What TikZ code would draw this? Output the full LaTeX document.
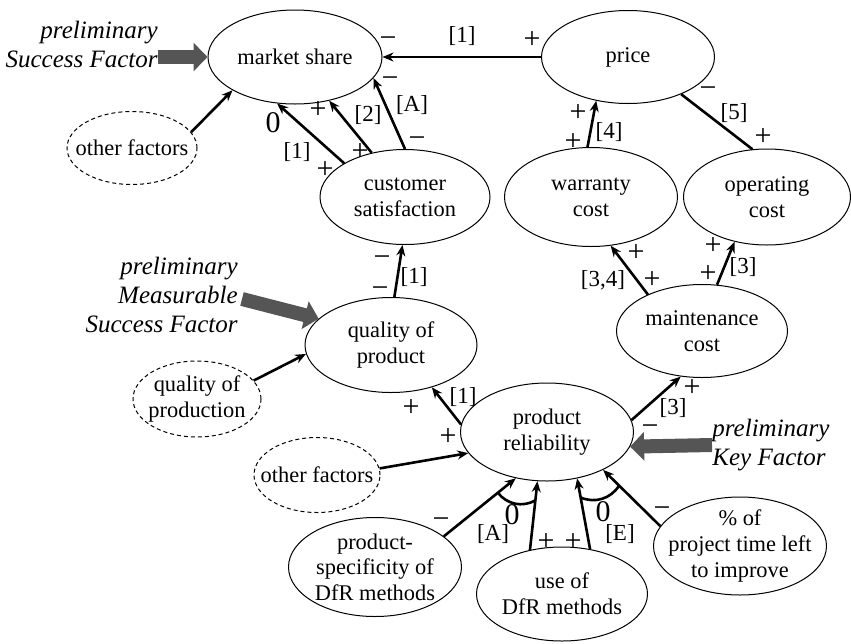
\documentclass[tikz,border=0pt]{standalone}
\usepackage{fontspec}
\setmainfont{Liberation Serif}
\usetikzlibrary{shapes.geometric,arrows.meta,calc}
\definecolor{keygray}{HTML}{555555}
\newcommand{\factorfont}{\fontsize{11.2pt}{12.8pt}\selectfont}
\newcommand{\notefont}{\fontsize{12.5pt}{14.5pt}\selectfont\itshape}

\begin{document}
\begin{tikzpicture}[x=0.5pt, y=-0.5pt,
    factor/.style={ellipse, draw, line width=0.5pt, inner sep=0pt},
    dashedfactor/.style={factor, dash pattern=on 2pt off 1.5pt},
    esize/.style args={#1/#2}{minimum width=#1*0.5pt, minimum height=#2*0.5pt},
    ftext/.style={align=center, font=\factorfont, inner sep=0pt},
    link/.style={-{Stealth[length=5.5pt,width=4.5pt]}, line width=1.3pt},
    andarc/.style={line width=1.3pt},
    bigarrow/.style={-{Triangle[length=7pt,width=14pt]}, line width=7pt, draw=keygray},
    note/.style={font=\notefont, inner sep=0pt},
    signlabel/.style={font=\fontsize{15pt}{15pt}\selectfont, inner sep=0pt},
    reflabel/.style={font=\fontsize{11.5pt}{12pt}\selectfont, inner sep=0pt}]

\useasboundingbox (0,0) rectangle (851,643);

% Factors
\node[factor, esize=174/94, label={[ftext]center:market share}] (ms) at (295,57) {};
\node[factor, esize=173/93, label={[ftext]center:price}] (price) at (628,57) {};
\node[factor, esize=170/95, label={[ftext]center:{customer\\satisfaction}}] (cs) at (405,197) {};
\node[factor, esize=173/99, label={[ftext]center:{warranty\\cost}}] (wc) at (591,197) {};
\node[factor, esize=167/96, label={[ftext]center:{operating\\cost}}] (oc) at (767,197) {};
\node[factor, esize=172/95, label={[ftext]center:{quality of\\product}}] (qp) at (391,345) {};
\node[factor, esize=171/93, label={[ftext]center:{maintenance\\cost}}] (mc) at (702,331) {};
\node[factor, esize=173/98, label={[ftext]center:{product\\reliability}}] (pr) at (547,432) {};
\node[factor, esize=173/99, label={[ftext]center:{product-\\specificity of\\DfR methods}}] (ps) at (375,567) {};
\node[factor, esize=171/94, label={[ftext]center:{use of\\DfR methods}}] (ud) at (562,594) {};
\node[factor, esize=173/98, label={[ftext]center:{\% of\\project time left\\to improve}}] (pt) at (740,546) {};

% Other factors
\node[dashedfactor, esize=130/73, label={[ftext]center:other factors}] (of1) at (132,148) {};
\node[dashedfactor, esize=128/76, label={[ftext]center:{quality of\\production}}] (qprod) at (197,399) {};
\node[dashedfactor, esize=126/75, label={[ftext]center:other factors}] (of2) at (317,475) {};

% Links
\foreach \a/\b in {price.180/ms.0, cs.151/ms.249, cs.127/ms.308, cs.90/ms.345,
    of1.15/ms.208, qp.86/cs.267, qprod.18/qp.186, pr.175/qp.314,
    wc.94/price.234, mc.146/wc.292, mc.72/oc.234, pr.8/mc.245,
    of2.6/pr.195, ps.24/pr.236, ud.126/pr.259, ud.58/pr.303, pt.166/pr.326}
{
    \draw[link] (\a) -- (\b);
}
\draw[line width=1.3pt] (oc.107) -- (price.325);

% Arcs
\coordinate (andA1) at ($(ps.24)!0.75!(pr.236)$);
\coordinate (andA2) at ($(ud.126)!0.72!(pr.259)$);
\coordinate (andB1) at ($(ud.58)!0.73!(pr.303)$);
\coordinate (andB2) at ($(pt.166)!0.72!(pr.326)$);
\draw[andarc] (andA1) to[bend right=40] (andA2);
\draw[andarc] (andB1) to[bend right=40] (andB2);

% Signs
\foreach \x/\y/\t [count=\n] in {388/42/−, 532/40/+, 318/110/+, 273/123/0,
    390/82/−, 325/170/+, 360/152/+, 417/142/−, 578/113/+, 573/142/+,
    708/92/−, 763/137/+, 382/261/−, 380/292/−, 636/253/+, 652/280/+,
    713/246/+, 708/274/+, 692/388/+, 650/430/−, 411/408/+, 448/437/+,
    441/523/−, 512/515/0, 546/542/+, 573/542/+, 603/512/0, 662/512/−}
{
    \node[signlabel] (sign-\n) at (\x,\y) {\t};
}

% Sources
\foreach \x/\y/\t [count=\n] in {462/36/[1], 297/152/[1], 368/115/[2], 412/105/[A],
    609/132/[4], 734/113/[5], 414/277/[1], 603/280/{[3,4]}, 743/267/[3],
    673/408/[3], 463/397/[1], 493/534/[A], 620/534/[E]}
{
    \node[reflabel] (src-\n) at (\x,\y) {\t};
}

% Preliminary factors
\node[note, align=right, anchor=east] (sflab) at (158,44) {preliminary\\Success Factor};
\draw[bigarrow] (sflab.east |- ms) -- (ms.west);
\node[note, align=right, anchor=east] (msflab) at (238,295) {preliminary\\Measurable\\Success Factor};
\draw[bigarrow] ([xshift=2pt,yshift=-2pt]msflab.east) -- (qp.160);
\node[note, align=left, anchor=west] (kflab) at (712,445) {preliminary\\Key Factor};
\draw[bigarrow] (kflab.west) -- (pr.-10);

\end{tikzpicture}
\end{document}
